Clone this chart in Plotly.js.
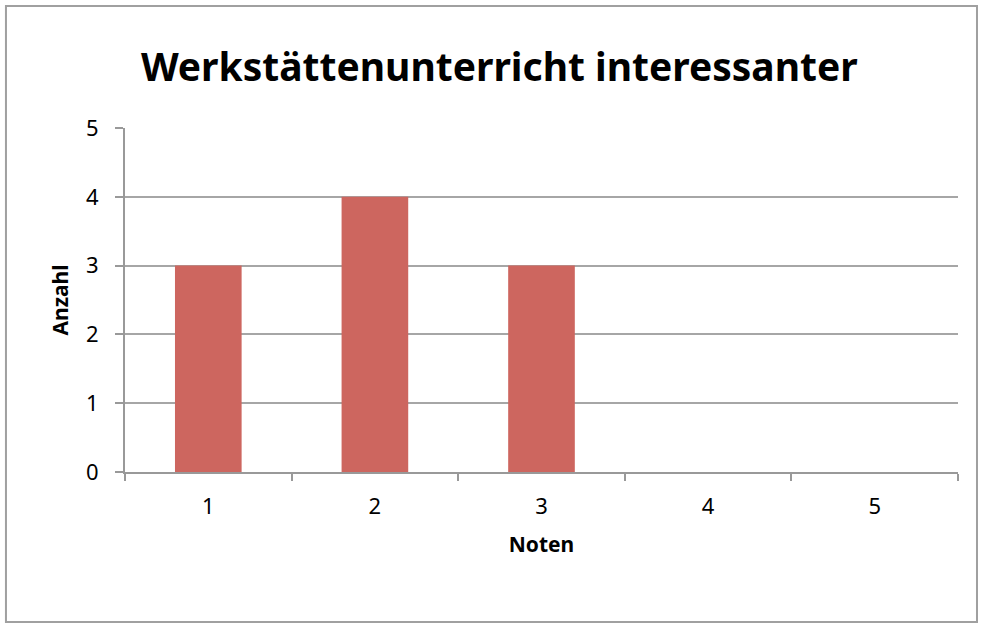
<!DOCTYPE html>
<html>
<head>
<meta charset="utf-8">
<script src="https://cdn.plot.ly/plotly-3.0.1.min.js"></script>
<style>html,body{margin:0;padding:0;background:#fff;}#chart{width:981px;height:627px;}</style>
</head>
<body>
<div id="chart"></div>
<script>
var categories = ["1", "2", "3", "4", "5"];
var counts = [3, 4, 3, 0, 0];
var yTicks = [0, 1, 2, 3, 4, 5];
var chartTitle = "Werkstättenunterricht interessanter";
var xTitle = "Noten";
var yTitle = "Anzahl";

var font = "Noto Sans, Open Sans, sans-serif";
var trace = {
  type: "bar",
  x: categories,
  y: counts,
  width: 0.4,
  marker: {color: "#CD665F", line: {width: 0}},
  hoverinfo: "none"
};
var layout = {
  width: 981, height: 627,
  margin: {l: 125, r: 23, t: 128, b: 155},
  paper_bgcolor: "#fff", plot_bgcolor: "#fff",
  showlegend: false,
  title: {text: chartTitle, x: 0.509, xanchor: "center", y: 0.893, yanchor: "middle",
          font: {family: font, size: 39, color: "#000", weight: "bold"}},
  xaxis: {
    type: "category", range: [-0.5, 4.5],
    showgrid: false, showline: true, linecolor: "#999", linewidth: 2,
    ticks: "outside", ticklen: 7, tickcolor: "#999", tickwidth: 2,
    tickson: "boundaries", ticklabelstandoff: 14,
    tickfont: {family: font, size: 22, color: "#000"},
    title: {text: xTitle, font: {family: font, size: 21, color: "#000", weight: "bold"}, standoff: 18},
    zeroline: false, fixedrange: true
  },
  yaxis: {
    range: [0, 5], tickvals: yTicks, ticktext: yTicks.map(String),
    showgrid: true, gridcolor: "#A6A6A6", gridwidth: 2,
    showline: true, linecolor: "#999", linewidth: 2,
    ticks: "outside", ticklen: 8, tickcolor: "#999", tickwidth: 2,
    ticklabelstandoff: 12,
    tickfont: {family: font, size: 22, color: "#000"},
    title: {text: yTitle, font: {family: font, size: 21, color: "#000", weight: "bold"}, standoff: 12},
    zeroline: false, fixedrange: true
  },
  shapes: [{type: "rect", xref: "paper", yref: "paper", x0: -0.1429, x1: 1.0228, y0: -0.436, y1: 1.3547,
            line: {color: "#A0A0A0", width: 2}, fillcolor: "rgba(0,0,0,0)", layer: "below"}]
};
Plotly.newPlot("chart", [trace], layout, {displayModeBar: false, staticPlot: true});
</script>
</body>
</html>
